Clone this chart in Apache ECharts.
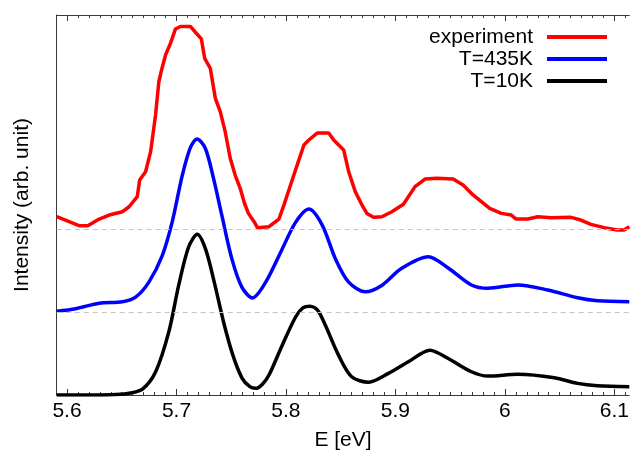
<!DOCTYPE html>
<html>
<head>
<meta charset="utf-8">
<script src="https://cdn.jsdelivr.net/npm/echarts@6/dist/echarts.min.js"></script>
<style>
html,body{margin:0;padding:0;background:#fff;}
#chart{width:632px;height:466px;}
</style>
</head>
<body>
<div id="chart"></div>
<script>
// ---- data (energies in eV, intensities in arb. units, curves plotted with vertical offsets) ----
const seriesNames = ['experiment', 'T=435K', 'T=10K'];
const seriesColors = ['#ff0000', '#0000ff', '#000000'];
const baselines = [0.5, 1.0];
const xTickLabels = [5.6, 5.7, 5.8, 5.9, 6.0, 6.1];

const expE = [5.5906, 5.602, 5.611, 5.619, 5.6294, 5.6385, 5.6506, 5.6567, 5.6642, 5.6664, 5.6718, 5.6764, 5.6809, 5.6839, 5.6864, 5.69, 5.6945, 5.6991, 5.7036, 5.7127, 5.7173, 5.7227, 5.7258, 5.7309, 5.7355, 5.74, 5.7445, 5.7491, 5.7536, 5.7582, 5.7621, 5.7657, 5.7709, 5.7739, 5.7845, 5.7936, 5.7982, 5.8042, 5.8103, 5.8164, 5.8209, 5.8285, 5.8391, 5.8436, 5.8527, 5.8573, 5.8633, 5.8694, 5.8739, 5.88, 5.8876, 5.8967, 5.9073, 5.9179, 5.927, 5.9376, 5.9527, 5.9618, 5.9709, 5.9785, 5.9861, 5.9967, 6.0058, 6.0103, 6.0209, 6.03, 6.0421, 6.0603, 6.0694, 6.0785, 6.0906, 6.1027, 6.1088, 6.1136];
const expI = [1.074, 1.044, 1.02, 1.02, 1.06, 1.084, 1.104, 1.134, 1.195, 1.295, 1.345, 1.466, 1.687, 1.887, 1.958, 2.048, 2.118, 2.205, 2.22, 2.22, 2.185, 2.145, 2.028, 1.968, 1.787, 1.707, 1.586, 1.426, 1.325, 1.245, 1.155, 1.094, 1.044, 1.008, 1.014, 1.06, 1.145, 1.265, 1.386, 1.506, 1.536, 1.578, 1.578, 1.536, 1.476, 1.345, 1.225, 1.145, 1.094, 1.07, 1.074, 1.104, 1.149, 1.255, 1.301, 1.305, 1.301, 1.265, 1.205, 1.165, 1.124, 1.094, 1.084, 1.06, 1.06, 1.074, 1.068, 1.07, 1.054, 1.028, 1.008, 0.994, 0.994, 1.014];

const t435E = [5.5906, 5.608, 5.6294, 5.6506, 5.6627, 5.6748, 5.687, 5.696, 5.7052, 5.7127, 5.7188, 5.7264, 5.734, 5.7415, 5.7506, 5.7597, 5.7694, 5.7815, 5.7966, 5.8088, 5.8209, 5.833, 5.8452, 5.8573, 5.8725, 5.8875, 5.9057, 5.93, 5.9482, 5.9694, 5.9845, 6.0118, 6.039, 6.0664, 6.0845, 6.1136];
const t435I = [0.505, 0.52, 0.553, 0.562, 0.59, 0.68, 0.84, 1.04, 1.32, 1.49, 1.542, 1.485, 1.30, 1.08, 0.82, 0.65, 0.585, 0.68, 0.88, 1.04, 1.12, 1.025, 0.82, 0.68, 0.622, 0.66, 0.763, 0.833, 0.765, 0.663, 0.643, 0.663, 0.633, 0.586, 0.568, 0.562];

const t10E = [5.5906, 5.62, 5.645, 5.658, 5.669, 5.681, 5.693, 5.702, 5.711, 5.719, 5.7265, 5.7345, 5.743, 5.7515, 5.760, 5.767, 5.7725, 5.7785, 5.7845, 5.7966, 5.8088, 5.8155, 5.822, 5.829, 5.836, 5.848, 5.860, 5.8755, 5.8936, 5.9118, 5.9315, 5.9482, 5.9694, 5.9845, 6.0118, 6.0452, 6.0664, 6.0845, 6.1136];
const t10I = [0.0, 0.0, 0.003, 0.012, 0.035, 0.14, 0.38, 0.66, 0.89, 0.968, 0.88, 0.68, 0.44, 0.24, 0.10, 0.05, 0.04, 0.065, 0.12, 0.30, 0.47, 0.525, 0.535, 0.51, 0.42, 0.24, 0.11, 0.077, 0.13, 0.20, 0.27, 0.22, 0.14, 0.114, 0.125, 0.104, 0.07, 0.056, 0.05];

// ---- build ----
function zip(a, b) { return a.map((v, i) => [v, b[i]]); }
const minorTicks = [];
for (let k = 559; k <= 611; k++) minorTicks.push(k / 100);

const FONT = 'Liberation Sans, Arial, Helvetica, sans-serif';
const xMin = 5.5906, xMax = 6.1136;
const axisCol = '#3a3a3a';

const chart = echarts.init(document.getElementById('chart'), null, {renderer: 'canvas'});
const option = {
  animation: false,
  backgroundColor: '#ffffff',
  textStyle: {fontFamily: FONT},
  grid: {left: 56.7, right: 0, top: 15, bottom: 71, containLabel: false},
  legend: {
    data: seriesNames,
    orient: 'vertical',
    right: 20,
    top: 21,
    align: 'right',
    itemWidth: 60,
    itemHeight: 4,
    itemGap: 0,
    icon: 'rect',
    textStyle: {fontFamily: FONT, fontSize: 21, color: '#000', lineHeight: 22, padding: [0, 9, 0, 0]}
  },
  xAxis: [
    {
      type: 'value', position: 'bottom', min: xMin, max: xMax,
      name: 'E [eV]', nameLocation: 'middle', nameGap: 35,
      nameTextStyle: {fontFamily: FONT, fontSize: 21, color: '#000'},
      axisLine: {show: true, onZero: false, lineStyle: {color: axisCol, width: 1}},
      axisTick: {show: true, inside: true, length: 6, customValues: xTickLabels, lineStyle: {color: axisCol}},
      axisLabel: {show: true, customValues: xTickLabels, margin: 6, fontFamily: FONT, fontSize: 21, color: '#000',
        formatter: v => String(Math.round(v * 10) / 10)},
      splitLine: {show: false}
    },
    {
      type: 'value', position: 'bottom', min: xMin, max: xMax,
      axisLine: {show: false},
      axisTick: {show: true, inside: true, length: 3, customValues: minorTicks, lineStyle: {color: axisCol}},
      axisLabel: {show: false}, splitLine: {show: false}
    },
    {
      type: 'value', position: 'top', min: xMin, max: xMax,
      axisLine: {show: true, onZero: false, lineStyle: {color: axisCol, width: 1}},
      axisTick: {show: true, inside: true, length: 6, customValues: xTickLabels, lineStyle: {color: axisCol}},
      axisLabel: {show: false}, splitLine: {show: false}
    },
    {
      type: 'value', position: 'top', min: xMin, max: xMax,
      axisLine: {show: false},
      axisTick: {show: true, inside: true, length: 3, customValues: minorTicks, lineStyle: {color: axisCol}},
      axisLabel: {show: false}, splitLine: {show: false}
    }
  ],
  yAxis: {
    type: 'value', min: 0, max: 2.289,
    name: 'Intensity (arb. unit)', nameLocation: 'middle', nameGap: 24,
    nameTextStyle: {fontFamily: FONT, fontSize: 21, color: '#000'},
    axisLine: {show: true, lineStyle: {color: axisCol, width: 1}},
    axisTick: {show: false}, axisLabel: {show: false}, splitLine: {show: false}
  },
  series: [
    {
      name: 'baselines', type: 'line', data: [], z: 1, silent: true,
      markLine: {
        silent: true, symbol: ['none', 'none'], label: {show: false},
        lineStyle: {color: '#c4c4c4', type: [5, 4], width: 1},
        data: baselines.map(b => ({yAxis: b}))
      }
    },
    {
      name: seriesNames[0], type: 'line', data: zip(expE, expI), showSymbol: false, smooth: false, z: 3,
      lineStyle: {color: seriesColors[0], width: 3.5}, itemStyle: {color: seriesColors[0]}
    },
    {
      name: seriesNames[1], type: 'line', data: zip(t435E, t435I), showSymbol: false, smooth: 0.3, z: 3,
      lineStyle: {color: seriesColors[1], width: 3.5}, itemStyle: {color: seriesColors[1]}
    },
    {
      name: seriesNames[2], type: 'line', data: zip(t10E, t10I), showSymbol: false, smooth: 0.3, z: 3,
      lineStyle: {color: seriesColors[2], width: 3.5}, itemStyle: {color: seriesColors[2]}
    }
  ]
};
chart.setOption(option);
</script>
</body>
</html>
